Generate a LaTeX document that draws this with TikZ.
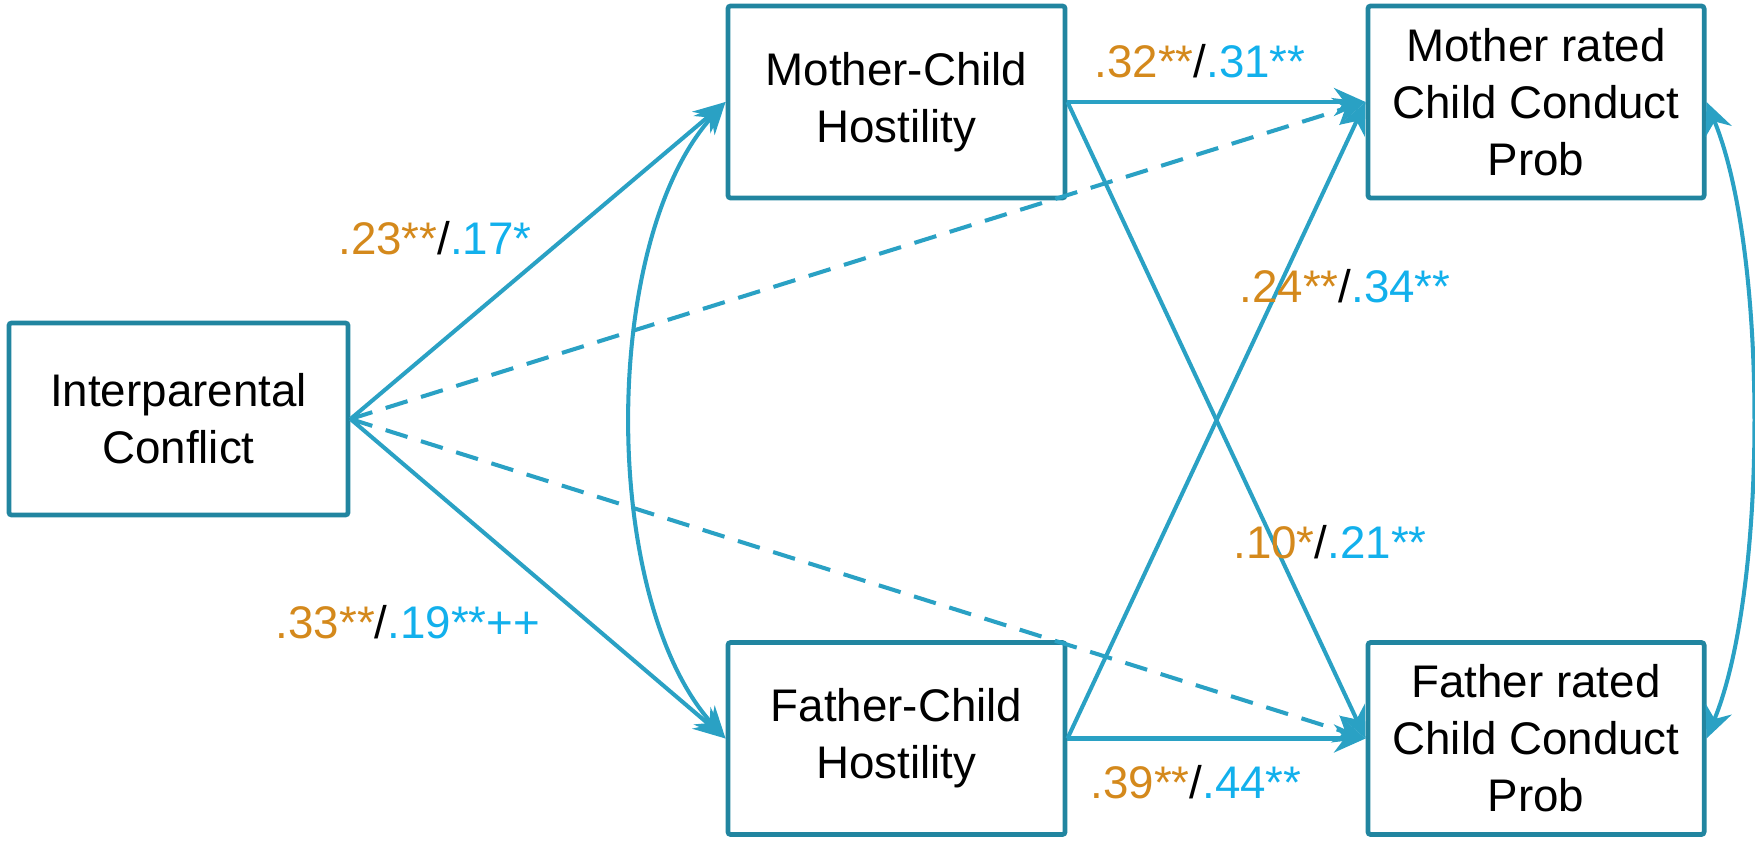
\documentclass[tikz,border=0pt]{standalone}
\usepackage{fontspec}
\setmainfont{Liberation Sans}
\usetikzlibrary{arrows.meta}
\definecolor{boxline}{RGB}{33,133,160}
\definecolor{pathline}{RGB}{42,161,196}
\definecolor{momnum}{RGB}{212,137,28}
\definecolor{dadnum}{RGB}{18,176,236}
\tikzset{
  varbox/.style={draw=boxline, line width=1.35pt, rounded corners=0.8pt,
    minimum width=3.37cm, minimum height=1.92cm, align=center,
    font=\fontsize{13}{16.2}\selectfont, inner sep=0pt},
  path arrow/.style={draw=pathline, line width=1.15pt,
    -{Stealth[length=9pt, width=8pt, inset=3pt]}},
  both arrow/.style={draw=pathline, line width=1.15pt,
    {Stealth[length=9pt, width=8pt, inset=3pt]}-{Stealth[length=9pt, width=8pt, inset=3pt]}},
  weak/.style={dash pattern=on 6.5pt off 4pt},
  coef/.style={anchor=base, font=\fontsize{13}{16}\selectfont, inner sep=0pt}
}
\newcommand{\coefpair}[2]{{\color{momnum}#1}/{\color{dadnum}#2}}
\begin{document}
\begin{tikzpicture}[x=0.01cm, y=-0.01cm]
  \useasboundingbox (0,0) rectangle (1755,843);

  % variables
  \node[varbox, minimum width=3.39cm] (ipc) at (178.5,419) {Interparental\\Conflict};
  \node[varbox] (mch) at (896.5,102) {Mother-Child\\Hostility};
  \node[varbox] (fch) at (896.5,738.5) {Father-Child\\Hostility};
  \node[varbox, minimum width=3.36cm] (mcp) at (1536,102) {Mother rated\\Child Conduct\\Prob};
  \node[varbox, minimum width=3.36cm] (fcp) at (1536,738.5) {Father rated\\Child Conduct\\Prob};

  % paths from interparental conflict
  \draw[path arrow] (ipc.east) -- (mch.west);
  \draw[path arrow] (ipc.east) -- (fch.west);
  \draw[path arrow, weak] (ipc.east) -- (mcp.west);
  \draw[path arrow, weak] (ipc.east) -- (fcp.west);

  % paths from parent-child hostility
  \draw[path arrow] (mch.east) -- (mcp.west);
  \draw[path arrow] (mch.east) -- (fcp.west);
  \draw[path arrow] (fch.east) -- (mcp.west);
  \draw[path arrow] (fch.east) -- (fcp.west);

  % covariances
  \draw[both arrow] (mch.west) .. controls (600,240) and (600,600) .. (fch.west);
  \draw[both arrow] (mcp.east) .. controls (1768,250) and (1768,590) .. (fcp.east);

  % path coefficients
  \node[coef] (c1) at (435,255) {\coefpair{.23**}{.17*}};
  \node[coef] (c2) at (408,638) {\coefpair{.33**}{.19**++}};
  \node[coef] (c3) at (1200,78) {\coefpair{.32**}{.31**}};
  \node[coef] (c4) at (1345,303) {\coefpair{.24**}{.34**}};
  \node[coef] (c5) at (1330,558) {\coefpair{.10*}{.21**}};
  \node[coef] (c6) at (1196,798) {\coefpair{.39**}{.44**}};
\end{tikzpicture}
\end{document}
